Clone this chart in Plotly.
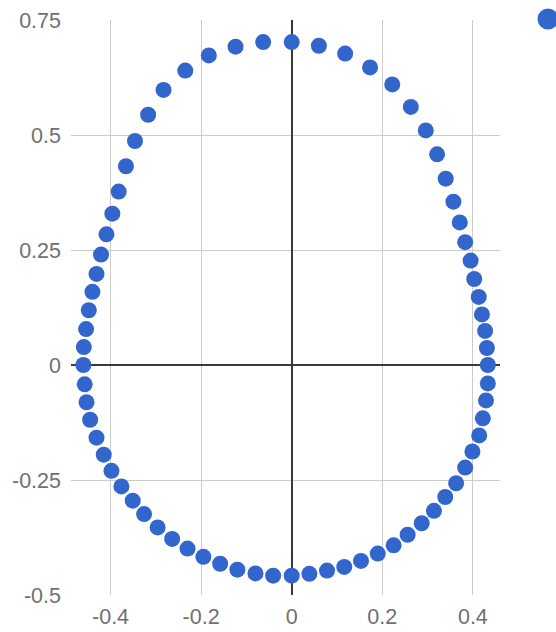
import plotly.graph_objects as go

# Egg-shaped closed curve, 72 samples going counter-clockwise from the right-hand side
x_vals = [
    0.433, 0.431, 0.427, 0.420, 0.413, 0.403, 0.395, 0.383, 0.371, 0.357,
    0.340, 0.321, 0.296, 0.263, 0.222, 0.173, 0.118, 0.060, 0.000,
    -0.063, -0.124, -0.183, -0.235, -0.283, -0.317, -0.346, -0.366, -0.382,
    -0.396, -0.409, -0.421, -0.431, -0.440, -0.448, -0.454, -0.459, -0.460,
    -0.457, -0.453, -0.445, -0.431, -0.415, -0.398, -0.376, -0.351, -0.326,
    -0.296, -0.264, -0.230, -0.195, -0.158, -0.120, -0.080, -0.041, 0.000,
    0.039, 0.078, 0.116, 0.153, 0.190, 0.225, 0.256, 0.287, 0.314,
    0.339, 0.363, 0.383, 0.399, 0.414, 0.422, 0.429, 0.433,
]
y_vals = [
    0.000, 0.037, 0.074, 0.110, 0.148, 0.187, 0.227, 0.267, 0.310, 0.355,
    0.405, 0.458, 0.510, 0.561, 0.610, 0.647, 0.677, 0.694, 0.702,
    0.702, 0.692, 0.673, 0.640, 0.598, 0.544, 0.487, 0.432, 0.377,
    0.329, 0.284, 0.240, 0.198, 0.159, 0.119, 0.078, 0.039, 0.000,
    -0.042, -0.081, -0.119, -0.158, -0.195, -0.230, -0.264, -0.295, -0.324,
    -0.353, -0.378, -0.399, -0.417, -0.432, -0.445, -0.453, -0.458, -0.458,
    -0.454, -0.447, -0.439, -0.426, -0.410, -0.392, -0.369, -0.344, -0.317,
    -0.287, -0.257, -0.223, -0.188, -0.153, -0.116, -0.077, -0.040,
]

x_ticks = [-0.4, -0.2, 0, 0.2, 0.4]
x_tick_labels = ["-0.4", "-0.2", "0", "0.2", "0.4"]
y_ticks = [-0.5, -0.25, 0, 0.25, 0.5, 0.75]
y_tick_labels = ["-0.5", "-0.25", "0", "0.25", "0.5", "0.75"]

BLUE = "#3366cc"
GRID = "#cccccc"
AXIS_DARK = "#3a3a3a"
TEXT = "#707070"
FONT = "Liberation Sans, Arial, sans-serif"

fig = go.Figure()
fig.add_trace(go.Scatter(
    x=x_vals,
    y=y_vals,
    mode="markers",
    marker=dict(size=16, color=BLUE, line=dict(width=0)),
    showlegend=False,
    cliponaxis=False,
))

# legend swatch at the top right, partly beyond the page edge
PLOT_L, PLOT_R, PLOT_T, PLOT_B = 71, 500, 20, 595
sw_x = (548 - PLOT_L) / (PLOT_R - PLOT_L)
sw_y = (PLOT_B - 19) / (PLOT_B - PLOT_T)
fig.add_shape(
    type="circle",
    xref="paper", yref="paper",
    xsizemode="pixel", ysizemode="pixel",
    xanchor=sw_x, yanchor=sw_y,
    x0=-10.5, x1=10.5, y0=-10.5, y1=10.5,
    fillcolor=BLUE, line=dict(width=0),
)

fig.update_layout(
    width=556,
    height=632,
    margin=dict(l=PLOT_L, r=556 - PLOT_R, t=PLOT_T, b=632 - PLOT_B, autoexpand=False),
    paper_bgcolor="white",
    plot_bgcolor="white",
    font=dict(family=FONT, size=21.5, color=TEXT),
    showlegend=False,
)
fig.update_xaxes(
    range=[-0.4873, 0.4599],
    tickvals=x_ticks,
    ticktext=x_tick_labels,
    showgrid=True, gridcolor=GRID, gridwidth=1.3,
    zeroline=True, zerolinecolor=AXIS_DARK, zerolinewidth=1.6,
    showline=False, ticks="",
    ticklabelstandoff=6,
)
fig.update_yaxes(
    range=[-0.5, 0.75],
    tickvals=y_ticks,
    ticktext=y_tick_labels,
    showgrid=True, gridcolor=GRID, gridwidth=1.3,
    zeroline=True, zerolinecolor=AXIS_DARK, zerolinewidth=1.6,
    showline=False, ticks="",
    ticklabelstandoff=9,
)

fig.write_html("out.html")
